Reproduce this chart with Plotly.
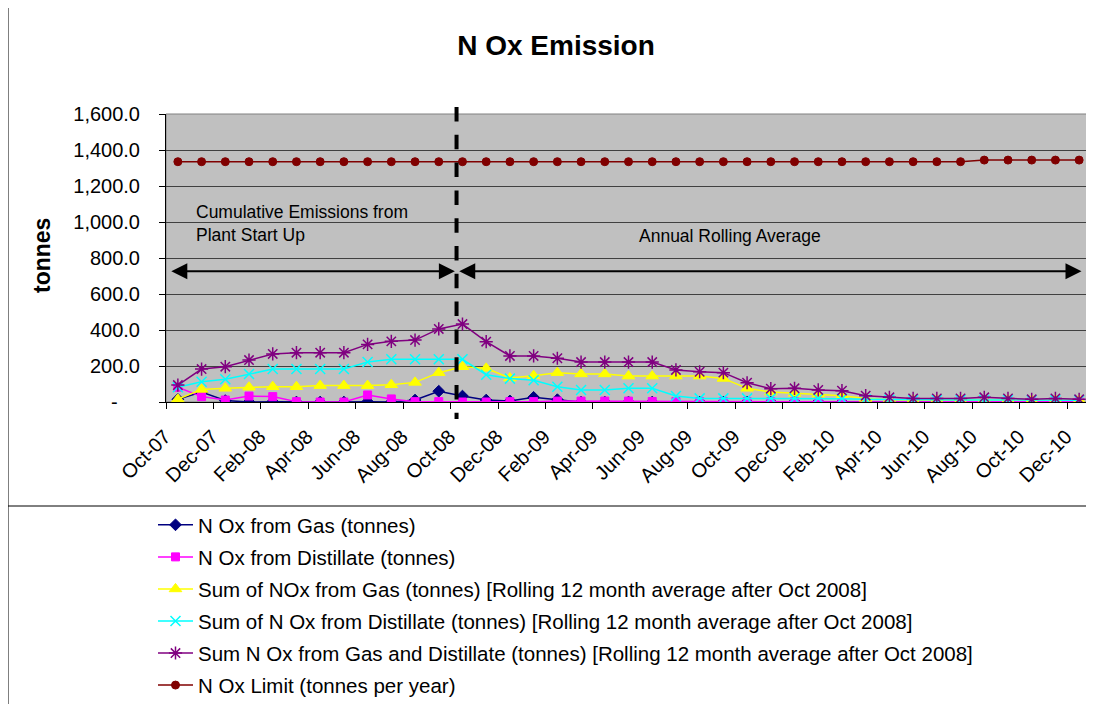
import plotly.graph_objects as go

months = ["Oct-07", "Nov-07", "Dec-07", "Jan-08", "Feb-08", "Mar-08", "Apr-08", "May-08", "Jun-08",
          "Jul-08", "Aug-08", "Sep-08", "Oct-08", "Nov-08", "Dec-08", "Jan-09", "Feb-09", "Mar-09",
          "Apr-09", "May-09", "Jun-09", "Jul-09", "Aug-09", "Sep-09", "Oct-09", "Nov-09", "Dec-09",
          "Jan-10", "Feb-10", "Mar-10", "Apr-10", "May-10", "Jun-10", "Jul-10", "Aug-10", "Sep-10",
          "Oct-10", "Nov-10", "Dec-10"]

nox_gas = [15, 55, 8, 0, 2, 0, 0, 0, 2, 0, 11, 60, 33, 11, 6, 26, 13, 0, 0, 0, 0, 0, 0, 0, 0,
           0, 1, 1, 0, 2, 1, 0, 0, 0, 1, 0, 0, 0, 0]
nox_distillate = [82, 30, 11, 33, 30, 2, 0, 0, 39, 17, 2, 2, 0, 0, 2, 2, 5, 5, 5, 5, 3, 3, 2, 2, 2,
                  1, 1, 1, 0, 1, 1, 1, 1, 1, 1, 1, 1, 1, 1]
sum_gas = [15, 70, 76, 82, 85, 85, 91, 91, 91, 96, 109, 163, 196, 187, 133, 146, 163, 156, 156, 144,
           144, 144, 144, 131, 76, 55, 48, 43, 35, 20, 13, 11, 11, 11, 11, 11, 9, 11, 10]
sum_distillate = [82, 113, 126, 156, 183, 183, 183, 183, 222, 237, 237, 237, 237, 151, 130, 121, 85,
                  67, 67, 76, 76, 33, 20, 20, 20, 20, 20, 20, 18, 15, 13, 11, 11, 11, 11, 11, 10, 10, 10]
sum_total = [94, 183, 196, 233, 267, 274, 274, 274, 320, 337, 344, 406, 433, 335, 256, 256, 243, 222,
             222, 222, 222, 178, 168, 163, 107, 74, 76, 67, 63, 35, 26, 20, 20, 20, 26, 20, 15, 20, 15]
nox_limit = [1335] * 34 + [1344] * 5

y_ticks = [0, 200, 400, 600, 800, 1000, 1200, 1400, 1600]
y_ticktext = ["-\u00a0\u00a0\u00a0\u00a0", "200.0", "400.0", "600.0", "800.0", "1,000.0",
              "1,200.0", "1,400.0", "1,600.0"]

x = list(range(len(months)))
FONT = "Liberation Sans, Arial, sans-serif"

series = [
    ("N Ox from Gas (tonnes)", nox_gas, "#000080", "diamond", 9, 1),
    ("N Ox from Distillate (tonnes)", nox_distillate, "#FF00FF", "square", 8, 1),
    ("Sum of NOx from Gas (tonnes) [Rolling 12 month average after Oct 2008]", sum_gas,
     "#FFFF00", "triangle-up", 11, 1),
    ("Sum of N Ox from Distillate (tonnes) [Rolling 12 month average after Oct 2008]", sum_distillate,
     "#00FFFF", "x-thin", 10, 1.5),
    ("Sum N Ox from Gas and Distillate (tonnes) [Rolling 12 month average after Oct 2008]", sum_total,
     "#800080", "asterisk", 11, 1.5),
    ("N Ox Limit (tonnes per year)", nox_limit, "#800000", "circle", 8, 1),
]

fig = go.Figure()
for i, (name, vals, color, sym, size, lw) in enumerate(series):
    fig.add_trace(go.Scatter(
        x=x, y=vals, name=name, mode="lines+markers", legendgroup="g%d" % i,
        line=dict(color=color, width=1.5),
        marker=dict(symbol=sym, size=size, color=color, line=dict(color=color, width=lw)),
    ))

fig.update_layout(
    width=1094, height=704,
    margin=dict(l=158, r=11, t=106, b=310, autoexpand=False),
    paper_bgcolor="white", plot_bgcolor="#C0C0C0",
    font=dict(family=FONT, size=20, color="black"),
    title=dict(text="<b>N Ox Emission</b>", x=548 / 1094, y=1 - 37 / 704, xref="container",
               yref="container", xanchor="center", yanchor="middle",
               font=dict(family=FONT, size=28, color="black")),
    showlegend=True,
    legend=dict(x=145 / 1094, y=1 - 497 / 704, xref="container", yref="container",
                xanchor="left", yanchor="top", font=dict(family=FONT, size=20.5),
                bgcolor="rgba(0,0,0,0)", traceorder="grouped", tracegroupgap=2.4,
                itemwidth=35),
    xaxis=dict(range=[-0.5, 38.5], tickmode="array", tickvals=x[::2], ticktext=months[::2],
               tickangle=-45, ticks="", showgrid=False, zeroline=False,
               ticklabelshift=-13, ticklabelstandoff=14,
               showline=True, linecolor="black", linewidth=1,
               tickfont=dict(family=FONT, size=20),
               minor=dict(tickmode="array", tickvals=[v - 0.5 for v in x[::2]],
                          ticks="outside", ticklen=6, tickcolor="black", showgrid=False)),
    yaxis=dict(range=[0, 1600], tickmode="array", tickvals=y_ticks, ticktext=y_ticktext,
               ticks="outside", ticklen=6, tickcolor="black", ticklabelstandoff=15,
               showgrid=True, gridcolor="#404040", gridwidth=1, zeroline=False,
               showline=True, linecolor="black", linewidth=1,
               tickfont=dict(family=FONT, size=20)),
)

# y axis title
fig.add_annotation(text="<b>tonnes</b>", xref="paper", yref="paper", x=(42 - 166) / 925,
                   y=(402 - 256) / 288, xanchor="center", yanchor="middle",
                   textangle=-90, showarrow=False, font=dict(family=FONT, size=23))

# text annotations
fig.add_annotation(text="Cumulative Emissions from<br>Plant Start Up", x=0.7, y=994, xref="x", yref="y",
                   xanchor="left", yanchor="middle", align="left", showarrow=False,
                   font=dict(family=FONT, size=17.5))
fig.add_annotation(text="Annual Rolling Average", x=19.35, y=920, xref="x", yref="y",
                   xanchor="left", yanchor="middle", showarrow=False,
                   font=dict(family=FONT, size=17.5))

# double-headed arrows
for (xa, xb) in [(-0.34, 11.68), (11.8, 38.1)]:
    fig.add_annotation(x=xb, y=727, ax=xa, ay=727, xref="x", yref="y", axref="x", ayref="y",
                       text="", showarrow=True, arrowhead=2, startarrowhead=2, arrowside="end+start",
                       arrowsize=1.6, startarrowsize=1.6, arrowwidth=2, arrowcolor="black",
                       standoff=0, startstandoff=0)

# dashed separator line
fig.add_shape(type="line", xref="x", yref="paper", x0=11.75, x1=11.75, y0=(402 - 107) / 288,
              y1=(402 - 419) / 288, line=dict(color="black", width=4, dash="14.5px,13.3px"))

# plot area border
fig.add_shape(type="rect", xref="paper", yref="paper", x0=0, x1=1, y0=0, y1=1,
              line=dict(color="#808080", width=1), layer="between")

# chart outer border and legend separator
fig.add_shape(type="rect", xref="paper", yref="paper", x0=(8 - 166) / 925, x1=(1110 - 166) / 925,
              y0=(402 - 720) / 288, y1=(402 - 3) / 288, line=dict(color="black", width=1))
fig.add_shape(type="line", xref="paper", yref="paper", x0=(8 - 166) / 925, x1=(1110 - 166) / 925,
              y0=(402 - 506) / 288, y1=(402 - 506) / 288, line=dict(color="black", width=1))

fig.write_html("out.html")
